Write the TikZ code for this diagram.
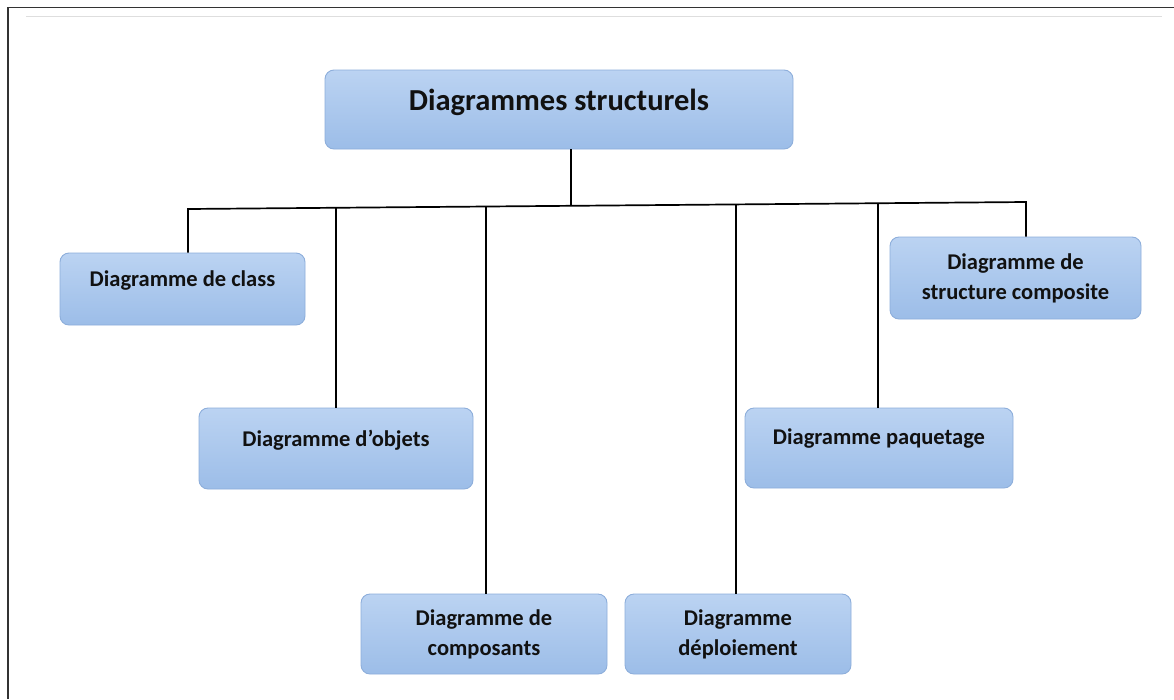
\documentclass[tikz,border=0pt]{standalone}
\usepackage{fontspec}
\setmainfont{Carlito}
\usetikzlibrary{calc}
\definecolor{boxtop}{HTML}{BBD3F2}
\definecolor{boxbot}{HTML}{9CBDE8}
\definecolor{boxline}{HTML}{8DAEDB}
\definecolor{inktext}{HTML}{111111}
% raise a single line of text without changing its box size
\newcommand{\liftline}[2]{\raisebox{#1}[0.7em][0.2em]{#2}}
\tikzset{
  diagbox/.style={rounded corners=9pt, draw=boxline, line width=0.9pt,
    top color=boxtop, bottom color=boxbot, align=center,
    text=inktext, font=\bfseries\fontsize{22.5}{30}\selectfont, inner sep=0pt},
  link/.style={line width=1.7pt, black}
}
\begin{document}
\begin{tikzpicture}[x=1pt, y=-1pt]
  % page area and frame
  \fill[white] (0,0) rectangle (1174,699);
  \useasboundingbox (0,0) rectangle (1174,699);
  \draw[line width=1.4pt, black!80] (8,699) -- (8,7.5) -- (1174,7.5);
  \draw[line width=1.6pt, black!13] (26,16.5) -- (1162,16.5);

  % boxes
  \node[diagbox, minimum width=468pt, minimum height=79pt,
        font=\bfseries\fontsize{30.5}{36}\selectfont] (top) at (559,109.5)
        {\liftline{7pt}{Diagrammes structurels}};
  \node[diagbox, minimum width=245pt, minimum height=72pt] (class) at (182.5,289)
        {\liftline{8pt}{Diagramme de class}};
  \node[diagbox, minimum width=274pt, minimum height=81pt] (objets) at (336,448.5)
        {\liftline{8pt}{Diagramme d’objets}};
  \node[diagbox, minimum width=246pt, minimum height=80pt] (compo) at (484,634)
        {Diagramme de\\composants};
  \node[diagbox, minimum width=226pt, minimum height=80pt] (deploi) at (738,634)
        {Diagramme\\déploiement};
  \node[diagbox, minimum width=268pt, minimum height=80pt] (paquet) at (879,448)
        {\liftline{9pt}{Diagramme paquetage}};
  \node[diagbox, minimum width=251pt, minimum height=82pt] (struct) at (1015.5,278)
        {Diagramme de\\structure composite};

  % bus joining the children
  \coordinate (bl) at (188,209);
  \coordinate (br) at (1026,202);
  \coordinate (jtop) at ($(bl)!0.4570!(br)$);
  \coordinate (jobj) at ($(bl)!0.1766!(br)$);
  \coordinate (jcomp) at ($(bl)!0.3556!(br)$);
  \coordinate (jdep) at ($(bl)!0.6539!(br)$);
  \coordinate (jpaq) at ($(bl)!0.8234!(br)$);

  \draw[link] (jtop |- top.south) -- (jtop);
  \draw[link] (class.north -| bl) -- (bl) -- (br) -- (br |- struct.north);
  \draw[link] (jobj) -- (jobj |- objets.north);
  \draw[link] (jcomp) -- (jcomp |- compo.north);
  \draw[link] (jdep) -- (jdep |- deploi.north);
  \draw[link] (jpaq) -- (jpaq |- paquet.north);
\end{tikzpicture}
\end{document}
